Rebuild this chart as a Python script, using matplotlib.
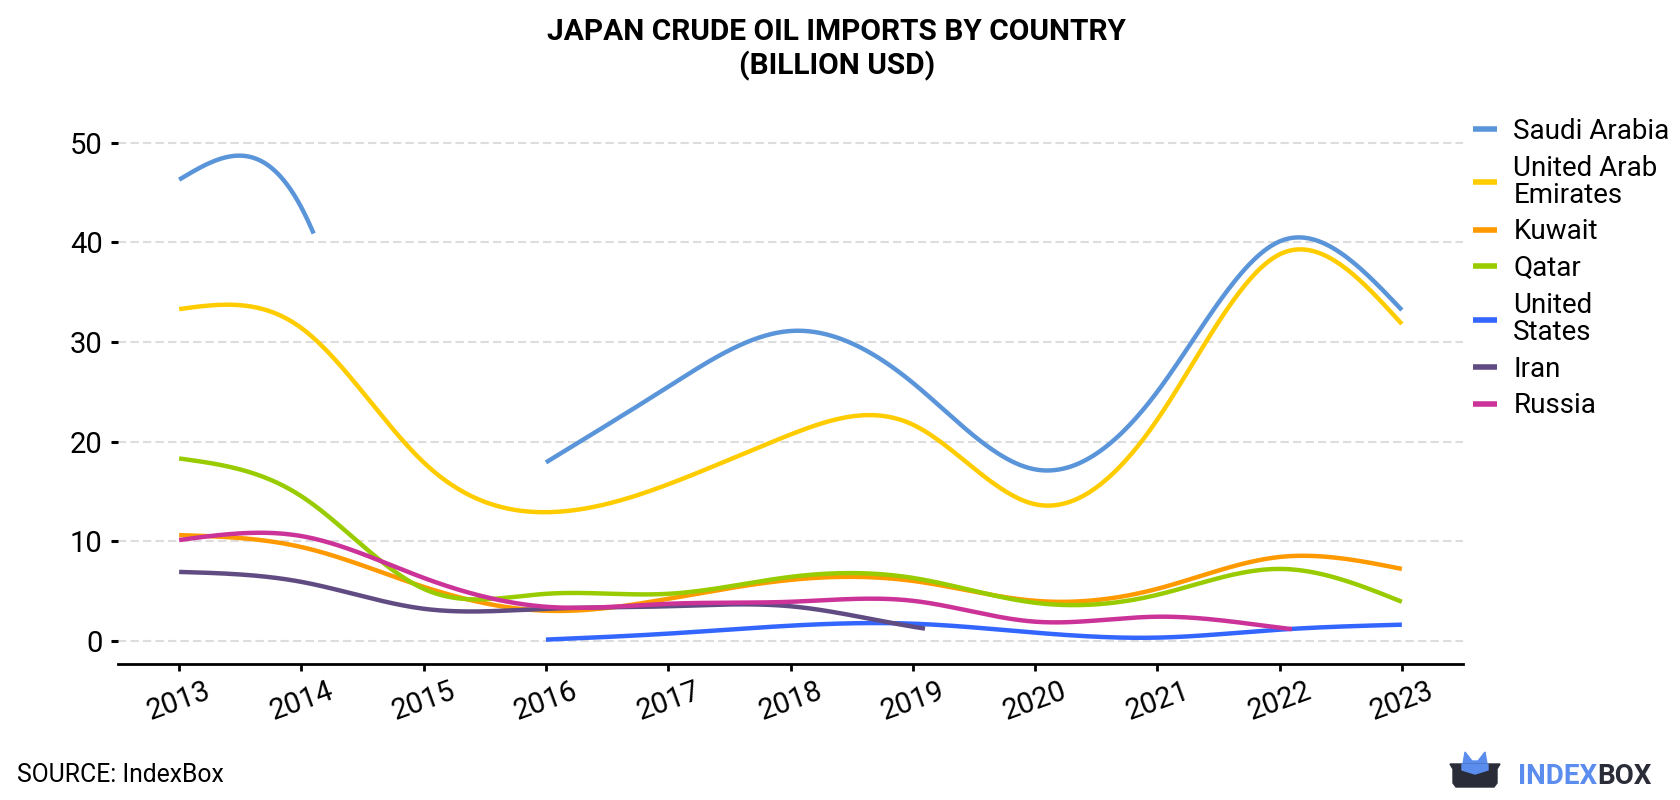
import numpy as np
import matplotlib
matplotlib.use('Agg')
import matplotlib.pyplot as plt
from matplotlib.patches import Polygon

plt.rcParams['font.family'] = ['Roboto', 'DejaVu Sans']

# yearly imports, billion USD (None = no data)
years = [2013, 2014, 2015, 2016, 2017, 2018, 2019, 2020, 2021, 2022, 2023]
saudi_arabia = [46.3, 43.5, None, 17.9, 25.5, 31.1, 25.9, 17.2, 25.0, 40.1, 33.2]
uae = [33.3, 31.4, 17.9, 12.9, 15.7, 20.7, 21.7, 13.7, 22.2, 38.8, 31.8]
kuwait = [10.6, 9.4, 5.4, 3.0, 4.2, 6.1, 6.0, 4.0, 5.2, 8.4, 7.2]
qatar = [18.3, 14.5, 5.2, 4.7, 4.7, 6.4, 6.3, 3.8, 4.6, 7.2, 3.9]
united_states = [None, None, None, 0.1, 0.7, 1.5, 1.7, 0.8, 0.3, 1.1, 1.6]
iran = [6.9, 5.9, 3.2, 3.2, 3.45, 3.45, 1.4, None, None, None, None]
russia = [10.1, 10.5, 6.3, 3.4, 3.7, 3.9, 4.0, 1.9, 2.4, 1.3, None]

series = [
    ('Saudi Arabia', saudi_arabia, '#5b95d9'),
    ('United Arab\nEmirates', uae, '#ffcc00'),
    ('Kuwait', kuwait, '#ff9900'),
    ('Qatar', qatar, '#99cc00'),
    ('United\nStates', united_states, '#3366ff'),
    ('Iran', iran, '#604c82'),
    ('Russia', russia, '#cc3399'),
]


def natural_spline(x, y, xs):
    x = np.asarray(x, float)
    y = np.asarray(y, float)
    n = len(x)
    if n < 3:
        return np.interp(xs, x, y)
    h = np.diff(x)
    A = np.zeros((n, n))
    r = np.zeros(n)
    A[0, 0] = A[-1, -1] = 1
    for i in range(1, n - 1):
        A[i, i - 1] = h[i - 1]
        A[i, i] = 2 * (h[i - 1] + h[i])
        A[i, i + 1] = h[i]
        r[i] = 6 * ((y[i + 1] - y[i]) / h[i] - (y[i] - y[i - 1]) / h[i - 1])
    M = np.linalg.solve(A, r)
    k = np.clip(np.searchsorted(x, xs) - 1, 0, n - 2)
    t0 = xs - x[k]
    t1 = x[k + 1] - xs
    hk = h[k]
    return (M[k] * t1 ** 3 / (6 * hk) + M[k + 1] * t0 ** 3 / (6 * hk)
            + (y[k] / hk - M[k] * hk / 6) * t1 + (y[k + 1] / hk - M[k + 1] * hk / 6) * t0)


def segments(vals):
    runs = []
    i = 0
    while i < len(vals):
        if vals[i] is None:
            i += 1
            continue
        j = i
        while j + 1 < len(vals) and vals[j + 1] is not None:
            j += 1
        runs.append((i, j))
        i = j + 1
    return runs


fig = plt.figure(figsize=(16.8, 8), dpi=100)
ax = fig.add_axes([118 / 1680, 1 - 664 / 800, (1463 - 118) / 1680, (664 - 110) / 800])

tail = 0.1
for name, vals, color in series:
    first = True
    for a, b in segments(vals):
        px = years[a:b + 1]
        py = vals[a:b + 1]
        if b + 1 < len(years):
            # a gap after the run pulls the curve down to zero
            px = px + [years[b + 1]]
            py = py + [0.0]
        xs = np.linspace(years[a], min(years[b] + tail, years[-1]), 400)
        ax.plot(xs, natural_spline(px, py, xs), color=color, lw=3.2, solid_capstyle='butt',
                label=name if first else None, zorder=3)
        first = False

ax.set_xlim(2012.5, 2023.5)
ax.set_ylim(-2.35, 53.3)
ax.set_xticks(years)
ax.set_xticklabels([str(y) for y in years], rotation=20, fontsize=21)
ax.set_yticks([0, 10, 20, 30, 40, 50])
ax.tick_params(axis='y', labelsize=21, length=5, width=2.2, pad=6)
ax.tick_params(axis='x', length=5, width=2, pad=4)
ax.grid(axis='y', color='#dddddd', lw=1.5, linestyle=(0, (4, 2)))
ax.set_axisbelow(True)
for s in ['top', 'right', 'left']:
    ax.spines[s].set_visible(False)
ax.spines['bottom'].set_linewidth(2)

leg = fig.legend(loc='upper left', bbox_to_anchor=(1473 / 1680, 1 - 118 / 800),
                 frameon=False, fontsize=20, handlelength=0.85, handletextpad=0.6,
                 labelspacing=0.35, borderaxespad=0, borderpad=0)
for line in leg.get_lines():
    line.set_linewidth(4)
for txt in leg.get_texts():
    txt.set_linespacing(1.0)

fig.text(0.498, 1 - 49.5 / 800, 'JAPAN CRUDE OIL IMPORTS BY COUNTRY\n(BILLION USD)',
         ha='center', va='center', fontsize=21.5, fontweight='bold', linespacing=1.2)
fig.text(17 / 1680, 1 - 775 / 800, 'SOURCE: IndexBox', ha='left', va='center', fontsize=17.8)

# logo
lax = fig.add_axes([0, 0, 1, 1], zorder=-1)
lax.set_xlim(0, 1680)
lax.set_ylim(800, 0)
lax.axis('off')
lax.add_patch(Polygon([[1462, 770], [1465, 752], [1472, 761], [1478, 761], [1485, 752], [1488, 770]],
                      closed=True, color='#5b8def'))
lax.add_patch(Polygon([[1450, 764], [1500, 764], [1497, 769], [1497, 783], [1494, 787],
                       [1456, 787], [1453, 783], [1453, 769]], closed=True, color='#2a2c38'))
lax.add_patch(Polygon([[1462, 764], [1488, 764], [1488, 770], [1475, 774], [1462, 770]],
                      closed=True, color='#5b8def'))
t = lax.text(1518, 776, 'INDEX', color='#5b8def', fontsize=20, fontweight='bold', va='center', ha='left')
fig.canvas.draw()
bb = t.get_window_extent()
lax.text(1518 + bb.width, 776, 'BOX', color='#2a2c38', fontsize=20, fontweight='bold', va='center', ha='left')

fig.savefig('out.png', dpi=100)
